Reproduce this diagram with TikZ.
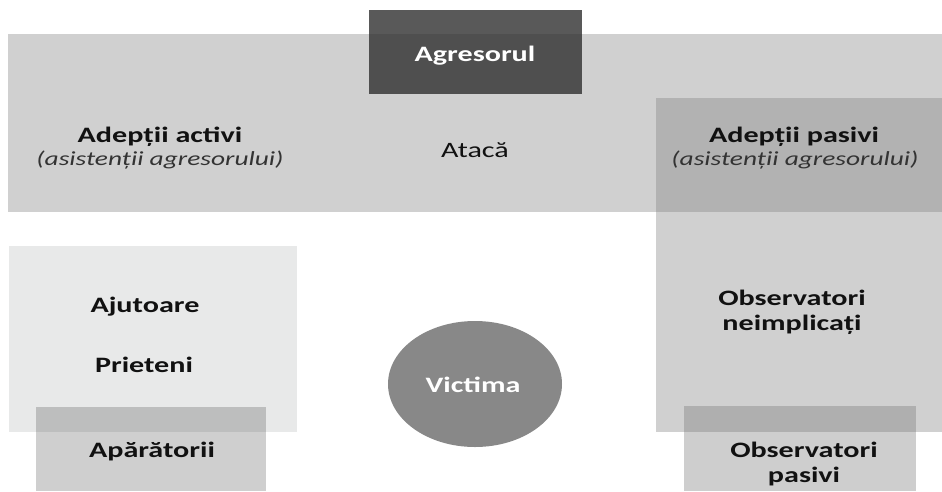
\documentclass[tikz,border=0pt]{standalone}
\usepackage{fontspec}
\setmainfont{Carlito}[FakeStretch=1.37]
\definecolor{bandc}{RGB}{208,208,208}
\definecolor{leftc}{RGB}{232,233,233}
\definecolor{victc}{RGB}{136,136,136}
\definecolor{agrc}{RGB}{45,45,45}
\definecolor{rightc}{RGB}{132,132,132}
\definecolor{aparc}{RGB}{71,71,71}
\definecolor{obspc}{RGB}{119,119,119}
\definecolor{txtc}{RGB}{17,17,17}
\definecolor{subc}{RGB}{51,51,51}
\begin{document}
\begin{tikzpicture}[x=1pt,y=-1pt,
  lbl/.style={font=\bfseries\fontsize{22}{25}\selectfont, text=txtc, inner sep=0pt, align=center, anchor=base},
  wlbl/.style={lbl, text=white},
  sub/.style={font=\itshape\fontsize{20}{24}\selectfont, text=subc, inner sep=0pt, anchor=base},
  plain/.style={font=\fontsize{22}{25}\selectfont, text=txtc, inner sep=0pt, anchor=base}]
\useasboundingbox (0,0) rectangle (942,491);
% shapes
\fill[bandc] (8,34) rectangle (942,212);
\fill[agrc, fill opacity=0.787] (369,10) rectangle (582,94);
\fill[rightc, fill opacity=0.383] (656,98) rectangle (942,432);
\fill[leftc] (9,246) rectangle (297,432);
\fill[aparc, fill opacity=0.261] (36,407) rectangle (266,491);
\fill[obspc, fill opacity=0.362] (684,406) rectangle (916,491);
\fill[victc] (475,384) ellipse [x radius=87pt, y radius=63pt];
% texts
\node[wlbl] (agr) at (475,61) {Agresorul};
\node[lbl] (act) at (160,142) {Adepții activi};
\node[sub] (acts) at (160,165) {(asistenții agresorului)};
\node[plain] (atc) at (475,157) {Atacă};
\node[lbl] (pas) at (794,142) {Adepții pasivi};
\node[sub] (pass) at (795,165) {(asistenții agresorului)};
\node[lbl] (aju) at (145,312) {Ajutoare};
\node[lbl] (pri) at (144,372) {Prieteni};
\node[lbl] (apa) at (152,457) {Apărătorii};
\node[wlbl] (vic) at (473,392) {Victima};
\node[lbl] (obn) at (792,330) {Observatori\\neimplicați};
\node[lbl] (obp) at (804,482) {Observatori\\pasivi};
\end{tikzpicture}
\end{document}
